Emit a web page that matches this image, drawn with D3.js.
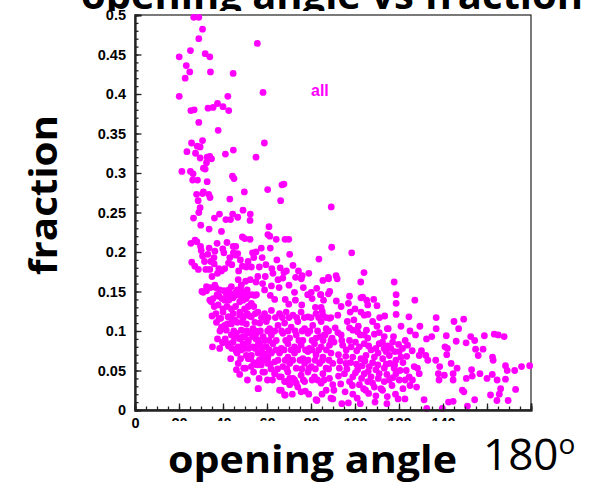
<!DOCTYPE html>
<html>
<head>
<meta charset="utf-8">
<script src="https://cdn.jsdelivr.net/npm/d3@7"></script>
<style>
  html, body { margin: 0; padding: 0; background: #fff; }
  svg { display: block; }
</style>
</head>
<body>
<svg id="chart" width="594" height="485"></svg>
<script>
// Axis tick values
const xLabelTicks = [0, 20, 40, 60, 80, 100, 120, 140];
const xMajorTicks = [0, 20, 40, 60, 80, 100, 120, 140, 160, 180];
const yLabelTicks = [0, 0.05, 0.1, 0.15, 0.2, 0.25, 0.3, 0.35, 0.4, 0.45, 0.5];

// Events: [opening angle (deg), fraction]
const upperEvents = [
  [26.7,.497],[29.0,.497],[30.7,.482],[29.0,.470],[55.6,.464],[25.2,.455],[20.1,.447],[31.9,.451],
  [34.0,.447],[23.3,.436],[24.9,.428],[34.3,.428],[44.6,.426],[22.8,.420],[20.1,.397],[42.2,.397],
  [58.2,.402],[25.4,.379],[26.9,.380],[33.2,.382],[35.5,.383],[37.5,.388],[40.0,.384],[42.6,.379],
  [29.0,.364],[37.8,.354],[30.7,.341],[25.7,.338],[58.8,.338],[28.3,.334],[29.6,.333],[23.6,.327],
  [27.5,.325],[41.1,.324],[44.7,.329],[32.8,.320],[34.0,.321],[34.8,.318],[29.6,.319],[55.0,.320],
  [32.5,.313],[31.1,.306],[31.9,.305],[21.3,.302],[25.2,.302],[26.4,.299],[44.3,.296],[45.0,.293],
  [26.2,.291],[28.4,.291],[32.8,.289],[66.8,.285],[67.7,.286],[60.3,.279],[49.7,.276],[31.1,.276],
  [30.7,.274],[28.0,.273],[33.5,.273],[34.1,.269],[28.7,.265],[43.1,.267],[66.2,.265],[89.2,.257],
  [29.6,.256],[29.0,.250],[38.4,.248],[44.4,.248],[49.1,.253],[52.4,.248],[26.6,.243],[36.1,.243],
  [41.3,.241],[43.4,.241],[46.7,.244],[52.3,.240]
];

const middleEvents = [
  [29.9,.234],[33.7,.229],[39.3,.226],[60.9,.232],[60.4,.222],[61.3,.220],[64.2,.216],[68.2,.216],
  [69.9,.216],[48.8,.219],[49.9,.217],[52.3,.216],[25.4,.211],[27.3,.215],[28.1,.213],[29.8,.207],
  [30.1,.202],[37.3,.211],[41.8,.212],[33.7,.205],[39.9,.204],[40.4,.199],[36.3,.201],[44.6,.207],
  [45.8,.207],[44.7,.199],[46.7,.198],[45.8,.196],[53.4,.199],[55.0,.200],[54.0,.193],[57.4,.205],
  [61.5,.205],[70.3,.197],[83.6,.191],[25.8,.187],[27.2,.182],[30.7,.195],[33.1,.197],[32.2,.178],
  [34.0,.178],[34.5,.188],[36.0,.185],[38.1,.179],[40.8,.179],[39.3,.176],[42.5,.186],[44.0,.184],
  [47.1,.176],[48.8,.182],[50.6,.181],[52.9,.181],[56.5,.181],[59.5,.184],[62.2,.179],[62.7,.173],
  [67.7,.174],[68.8,.176],[73.0,.168],[76.0,.170],[85.4,.164],[88.0,.166],[35.0,.169],[37.5,.173],
  [46.9,.165],[50.3,.163],[52.4,.165],[55.8,.169],[55.0,.162],[59.2,.169],[65.0,.165],[67.2,.167],
  [30.4,.150],[32.5,.151],[34.3,.155],[36.7,.155],[34.0,.139],[37.3,.146],[38.2,.144],[40.5,.151],
  [42.6,.152],[43.7,.146],[40.0,.128],[42.6,.139],[44.6,.142],[45.5,.148],[47.6,.145],[48.2,.151],
  [49.1,.139],[51.4,.145],[53.2,.146],[55.2,.146],[58.9,.152],[61.5,.145],[63.5,.140],[68.3,.140],
  [69.9,.134],[72.5,.149],[72.9,.139],[75.8,.133],[80.1,.149],[80.5,.141],[84.5,.146],[85.7,.139],
  [32.5,.156],[36.3,.158],[43.8,.156],[48.3,.158],[31.0,.149],[37.8,.145],[41.5,.147],[45.3,.145],
  [49.1,.147],[54.4,.145],[34.7,.137],[40.8,.139],[47.6,.137],[52.9,.135],[37.8,.133],[43.8,.128],
  [49.8,.128],[40.0,.124],[47.6,.124],
  [31.6,.188],[28.8,.178],[35.9,.193],[43.1,.193],[47.9,.190],[51.4,.188],[57.8,.193],[64.5,.190],
  [66.0,.180],[71.8,.183],[74.3,.176],[79.0,.173],[58.0,.160],[62.0,.157],[65.5,.155],[70.0,.158],
  [76.5,.155],[78.5,.146],[82.6,.154],[88.5,.150],[91.5,.138],[93.7,.131],[97.0,.135],[100.0,.128],
  [110.0,.132],[108.5,.140],[96.5,.112],[99.5,.114],[108.0,.112],[101.5,.106],[97.5,.104],[110.0,.106],
  [125.0,.100],[127.5,.095],[129.5,.106],[141.5,.094],[146.0,.087],[158.8,.094]
];

const lowerLeftEvents = [
  [35.0,.119],[38.2,.116],[42.5,.118],[43.8,.116],[47.6,.120],[49.4,.119],[52.1,.119],[39.3,.105],
  [42.0,.109],[35.2,.080],[39.8,.085],[42.5,.081],[45.0,.093],[47.0,.091],[45.8,.076],[46.4,.072],
  [49.1,.093],[51.5,.088],[53.6,.093],[49.4,.083],[51.7,.078],[55.9,.082],[57.4,.080],[56.7,.072],
  [58.9,.071],[60.4,.067],[46.1,.051],[47.6,.045],[49.4,.053],[51.1,.038],[52.9,.055],[56.4,.040],
  [54.0,.060],[55.5,.057],[60.2,.064],[61.5,.058],[63.6,.046],[56.1,.027],[65.7,.042],[66.5,.025],
  [68.3,.019],[68.8,.036],[70.3,.040],[73.3,.034],[77.4,.024],[82.7,.012],[46.9,.059],[50.2,.053],
  [52.6,.065],[54.4,.059],[39.0,.116],[40.8,.107],[42.3,.118],[43.8,.109],[45.3,.114],[49.1,.116],
  [50.6,.109],[52.9,.118],[41.5,.101],[43.8,.095],[46.1,.097],[48.3,.101],[49.8,.093],[52.1,.097],
  [53.6,.103],[40.0,.086],[42.3,.084],[44.6,.086],[46.8,.080],[49.1,.084],[51.4,.086],[53.6,.080],
  [46.1,.074],[48.3,.076],[52.9,.069],[50.6,.069],
  [38.5,.152],[46.5,.152],[51.0,.152],[35.5,.141],[39.5,.141],[43.2,.141],[50.5,.141],[36.0,.131],
  [41.8,.131],[45.7,.131],[51.5,.131],[54.0,.131],[36.8,.122],[44.6,.122],[51.0,.122],[54.7,.122],
  [37.0,.111],[46.5,.111],[48.6,.111],[54.5,.111],[38.6,.100],[44.9,.100],[50.8,.100],[54.8,.100],
  [37.5,.090],[41.0,.090],[47.8,.090],[55.0,.090],[38.5,.078],[44.0,.078],[49.9,.078],[54.6,.078],
  [43.5,.065],[48.0,.065],[51.5,.065],[57.8,.065],[53.9,.048],[58.1,.048]
];

const centerEvents = [
  [55.9,.124],[58.9,.122],[62.0,.126],[65.7,.122],[68.7,.124],[71.8,.120],[75.5,.124],[78.6,.118],
  [82.3,.122],[85.4,.120],[88.4,.116],[56.7,.110],[59.7,.112],[61.2,.103],[65.0,.107],[68.0,.110],
  [71.0,.105],[74.0,.112],[77.1,.103],[80.8,.107],[84.6,.112],[86.9,.103],[55.2,.097],[58.2,.093],
  [62.0,.095],[64.2,.088],[67.2,.097],[70.3,.091],[73.3,.095],[76.3,.088],[78.6,.097],[82.3,.091],
  [86.1,.095],[89.1,.088],[56.7,.084],[59.7,.080],[62.7,.084],[66.5,.078],[69.5,.084],[72.5,.080],
  [75.5,.082],[79.3,.078],[81.6,.084],[84.6,.080],[88.4,.082],[55.9,.072],[58.9,.067],[62.0,.072],
  [65.7,.072],[69.5,.067],[72.5,.072],[76.3,.065],[78.6,.074],[82.3,.070],[85.4,.067],[89.1,.072],
  [57.4,.057],[60.4,.059],[63.5,.061],[67.2,.055],[70.3,.059],[73.3,.053],[77.1,.059],[80.1,.055],
  [83.9,.059],[86.9,.053],[89.9,.059],[58.9,.048],[63.5,.046],[66.5,.042],[69.5,.048],[71.8,.040],
  [75.5,.044],[78.6,.048],[81.6,.042],[85.4,.046],[88.4,.040],[68.0,.036],[65.7,.025],[70.3,.032],
  [74.0,.029],[77.1,.036],[84.6,.034],[86.9,.025],[89.9,.032],[55.9,.027],[68.0,.019],[75.5,.023],
  [82.3,.013],[89.1,.015],
  [57.5,.117],[60.5,.117],[63.8,.117],[67.0,.117],[70.0,.117],[73.5,.117],[77.0,.117],[80.0,.117],
  [83.5,.117],[87.0,.117],[57.0,.100],[60.3,.100],[63.5,.100],[66.6,.100],[69.6,.100],[72.8,.100],
  [76.0,.100],[79.5,.100],[83.0,.100],[88.0,.100],[56.0,.088],[59.0,.088],[61.0,.088],[68.5,.088],
  [74.5,.088],[80.5,.088],[85.5,.088],[57.5,.076],[61.0,.076],[64.0,.076],[67.8,.076],[71.0,.076],
  [74.0,.076],[77.5,.076],[80.5,.076],[83.5,.076],[87.0,.076],[56.5,.063],[59.5,.063],[65.0,.063],
  [68.3,.063],[71.7,.063],[75.0,.063],[78.7,.063],[81.9,.063],[85.2,.063],[88.2,.063],[61.8,.052],
  [64.8,.052],[69.0,.052],[75.8,.052],[79.0,.052],[82.0,.052],[88.0,.052],[60.2,.038],[62.5,.038],
  [72.5,.038],[76.5,.038],[80.5,.038],[83.0,.038],[86.0,.038],[71.5,.020],[79.0,.020],[85.0,.020]
];

const rightEvents = [
  [89.4,.206],[98.5,.199],[91.4,.170],[91.9,.166],[87.9,.168],[75.6,.166],[104.1,.174],[102.6,.162],
  [117.8,.162],[118.7,.146],[118.7,.135],[127.2,.139],[97.5,.144],[102.7,.142],[103.5,.143],[105.3,.139],
  [105.8,.133],[84.3,.146],[87.9,.147],[82.0,.130],[84.6,.130],[85.1,.125],[89.0,.117],[92.2,.120],
  [97.8,.124],[102.7,.124],[104.2,.120],[105.9,.121],[111.2,.117],[113.5,.119],[114.7,.103],[118.7,.121],
  [124.5,.118],[136.9,.117],[136.9,.103],[145.0,.112],[149.4,.115],[147.1,.103],[163.3,.096],[165.1,.095],
  [167.8,.093],[120.9,.106],[115.1,.103],[108.8,.096],[111.0,.098],[113.3,.093],[112.5,.086],[105.2,.101],
  [104.2,.095],[105.8,.091],[99.0,.101],[101.2,.099],[102.4,.095],[100.2,.086],[93.7,.095],[94.4,.082],
  [91.0,.104],[92.2,.098],[84.2,.093],[86.4,.095],[89.6,.091],[90.5,.086],[132.5,.090],[134.9,.093],
  [140.9,.080],[141.7,.070],[142.0,.078],[150.5,.085],[152.6,.093],[154.8,.077],[154.4,.088],[156.0,.069],
  [158.2,.077],[162.5,.067],[162.8,.063],[168.4,.056],[169.2,.050],[172.6,.050],[175.7,.055],[179.4,.056],
  [111.0,.084],[114.8,.081],[117.1,.086],[118.1,.074],[120.9,.067],[120.1,.074],[121.6,.078],[122.8,.088],
  [123.9,.082],[129.2,.069],[130.2,.075],[132.2,.069],[133.1,.063],[128.4,.053],[136.7,.063],[138.5,.055],
  [137.9,.046],[140.6,.044],[138.2,.038],[143.7,.059],[144.6,.046],[144.6,.038],[146.4,.053],[148.8,.025],
  [149.5,.023],[153.0,.051],[153.3,.043],[156.8,.046],[150.6,.040],[160.0,.040],[162.4,.045],[164.6,.038],
  [166.2,.027],[168.4,.039],[173.0,.026],[169.6,.012],[161.6,.019],[164.5,.012],[165.6,.020],[154.4,.013],
  [151.1,.005],[144.6,.011],[142.5,.010],[139.7,.002],[132.6,.002],[131.4,.013],[114.5,.008],[119.6,.014],
  [122.7,.014],[118.4,.020],[114.7,.017],[112.5,.025],[109.1,.010],[109.5,.018],[106.2,.021],[103.9,.027],
  [102.4,.008],[99.0,.020],[97.0,.009],[94.0,.008],[90.4,.025],[89.9,.014],[126.1,.038],[128.0,.029],
  [129.2,.046],[124.6,.042],[122.8,.038],[126.9,.055],[109.5,.051],[111.0,.046],[113.3,.053],[115.9,.059],
  [117.8,.053],[120.1,.038],[118.6,.046],[115.6,.038],[113.3,.036],[111.8,.027],[108.8,.029],[105.8,.036],
  [107.3,.042],[104.2,.046],[106.5,.055],[101.2,.051],[99.0,.042],[102.0,.032],[97.5,.036],[95.2,.046],
  [92.9,.053],[95.9,.059],[99.0,.067],[102.7,.065],[105.0,.069],[108.8,.067],[112.6,.065],[115.6,.069],
  [118.6,.063],[96.0,.076],[102.0,.080],[107.3,.076],[114.1,.074],[97.5,.088],[104.2,.084],[109.5,.078],
  [116.3,.078],
  [94.0,.088],[98.2,.080],[100.8,.075],[106.2,.081],[110.5,.072],[113.2,.078],[117.5,.093],[119.8,.083],
  [95.8,.068],[98.0,.060],[100.7,.058],[103.3,.056],[104.5,.062],[108.0,.060],[110.4,.057],[114.2,.058],
  [118.0,.057],[121.8,.060],[123.5,.068],[126.0,.075],[92.5,.070],[93.2,.062],[92.5,.043],[96.3,.052],
  [100.2,.047],[103.0,.040],[106.0,.049],[110.6,.040],[114.5,.045],[117.3,.041],[120.5,.050],[123.3,.050],
  [98.8,.031],[104.8,.025],[108.0,.034],[116.8,.031],[121.8,.027],[125.0,.031],[93.5,.033],[95.5,.023],
  [101.0,.015]
];

const events = [].concat(upperEvents, middleEvents, lowerLeftEvents, centerEvents, rightEvents);

const svg = d3.select("#chart");
const W = 594, H = 485;
const plot = { left: 135, right: 531, top: 15, bottom: 410 };

const x = d3.scaleLinear().domain([0, 180]).range([plot.left, plot.right]);
const y = d3.scaleLinear().domain([0, 0.5]).range([plot.bottom, plot.top]);

const headFont = "'Open Sans', 'Noto Sans', sans-serif";
const tickFont = "'Liberation Sans', Arial, sans-serif";

// Slide title, partly hidden behind the plot panel
svg.append("text")
  .attr("x", 81).attr("y", 8.5)
  .attr("textLength", 502).attr("lengthAdjust", "spacingAndGlyphs")
  .attr("font-family", headFont).attr("font-weight", 700).attr("font-size", 40)
  .attr("fill", "#000")
  .text("opening angle vs fraction");

svg.append("rect").attr("x", 0).attr("y", 11).attr("width", W).attr("height", H - 11).attr("fill", "#fff");

// Frame
svg.append("rect")
  .attr("x", plot.left).attr("y", plot.top)
  .attr("width", plot.right - plot.left).attr("height", plot.bottom - plot.top)
  .attr("fill", "none").attr("stroke", "#222").attr("stroke-width", 1.2);

// Data points
svg.append("g").selectAll("circle")
  .data(events)
  .join("circle")
  .attr("cx", d => x(d[0]))
  .attr("cy", d => y(d[1]))
  .attr("r", 3.4)
  .attr("fill", "#ff00ff");

// Axes with inward ticks
function styleAxis(g) {
  g.select(".domain").attr("stroke", "#222").attr("stroke-width", 1.8);
  g.selectAll(".tick line").attr("stroke", "#222").attr("stroke-width", 1.3);
  g.selectAll("text").attr("font-family", tickFont).attr("font-weight", 700)
    .attr("font-size", 14.5).attr("fill", "#000");
}

svg.append("g").attr("transform", `translate(${plot.left},0)`)
  .call(d3.axisLeft(y).tickValues(d3.range(0, 0.5001, 0.01)).tickSize(-3.5).tickFormat(""))
  .call(styleAxis);
svg.append("g").attr("transform", `translate(${plot.left},0)`)
  .call(d3.axisLeft(y).tickValues(yLabelTicks).tickSize(-6.5).tickPadding(9)
        .tickFormat(d => d3.format("")(+d.toFixed(2))))
  .call(styleAxis);

svg.append("g").attr("transform", `translate(0,${plot.bottom})`)
  .call(d3.axisBottom(x).tickValues(d3.range(0, 180.01, 5)).tickSize(-3.5).tickFormat(""))
  .call(styleAxis);
svg.append("g").attr("transform", `translate(0,${plot.bottom})`)
  .call(d3.axisBottom(x).tickValues(xMajorTicks).tickSize(-6.5).tickPadding(8)
        .tickFormat(d => xLabelTicks.includes(d) ? String(d) : ""))
  .call(styleAxis);

// Series label
svg.append("text")
  .attr("x", x(80)).attr("y", y(0.398))
  .attr("font-family", tickFont).attr("font-weight", 700).attr("font-size", 16)
  .attr("fill", "#ff00ff")
  .text("all");

// Slide overlay clipping the lower tick labels
svg.append("rect").attr("x", 150).attr("y", 421).attr("width", W - 150).attr("height", H - 421).attr("fill", "#fff");

// Slide axis titles
svg.append("text")
  .attr("x", 168).attr("y", 473)
  .attr("textLength", 289).attr("lengthAdjust", "spacingAndGlyphs")
  .attr("font-family", headFont).attr("font-weight", 700).attr("font-size", 38)
  .attr("fill", "#000")
  .text("opening angle");

const deg = svg.append("text")
  .attr("x", 483).attr("y", 470)
  .attr("font-family", headFont).attr("font-weight", 400).attr("font-size", 44)
  .attr("fill", "#000");
deg.append("tspan").text("180");
deg.append("tspan").attr("dy", -16).attr("font-size", 28).text("o");

svg.append("text")
  .attr("transform", "translate(57,195) rotate(-90)")
  .attr("text-anchor", "middle")
  .attr("textLength", 160).attr("lengthAdjust", "spacingAndGlyphs")
  .attr("font-family", headFont).attr("font-weight", 700).attr("font-size", 38)
  .attr("fill", "#000")
  .text("fraction");
</script>
</body>
</html>
